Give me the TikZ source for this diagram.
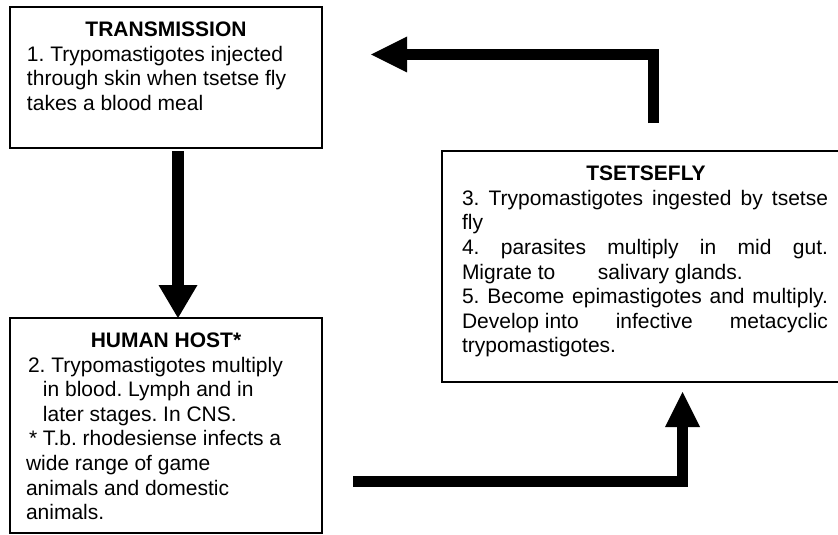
\documentclass[tikz,border=0pt]{standalone}
\usepackage{fontspec}
\setmainfont{Liberation Sans}
\usetikzlibrary{arrows.meta,calc}
\begin{document}
\begin{tikzpicture}[x=1pt,y=-1pt,
  box/.style={draw=black,line width=1.6pt,fill=white,inner sep=0pt,outer sep=0pt,anchor=north west},
  txt/.style={anchor=base west,inner sep=0pt,outer sep=0pt,font=\fontsize{21}{24.6}\selectfont\frenchspacing,align=left},
  hdr/.style={anchor=base,inner sep=0pt,outer sep=0pt,font=\fontsize{21}{24.6}\selectfont\bfseries},
  bigarrow/.style={line width=11.5pt,line join=miter,line cap=butt}]
\useasboundingbox (0,0) rectangle (838,535);
\clip (0,0) rectangle (838,535);
\fill[white] (0,0) rectangle (838,535);
% boxes
\node[box,minimum width=312pt,minimum height=141pt] (trans) at (10,7) {};
\node[box,minimum width=312pt,minimum height=215pt] (host) at (10,318) {};
\node[box,minimum width=408pt,minimum height=231pt] (fly) at (442,151) {};
% texts (anchor = baseline of the last line)
\node[hdr] (transh) at ($(trans.north)+(0,29.7)$) {TRANSMISSION};
\node[txt] (transt) at (27,110.5) {1. Trypomastigotes injected\\through skin when tsetse fly\\takes a blood meal};
\node[hdr] (hosth) at ($(host.north)+(0,29.5)$) {HUMAN HOST*};
\node[txt] (hostt) at (26,519.7) {\hspace*{2pt}2. Trypomastigotes multiply\\
\hspace*{17pt}in blood. Lymph and in\\
\hspace*{17pt}later stages. In CNS.\\
\hspace*{3pt}* T.b. rhodesiense infects a\\
wide range of game\\
animals and domestic\\
animals.};
\node[hdr] (flyh) at ($(fly.north)+(0,29.7)$) {TSETSEFLY};
\node[txt] (flyt) at (462,352.9) {\makebox[366pt][s]{3. Trypomastigotes ingested by tsetse}\\
fly\\
\makebox[366pt][s]{4. parasites multiply in mid gut.}\\
\makebox[136pt][l]{Migrate to}salivary glands.\\
\makebox[366pt][s]{5. Become epimastigotes and multiply.}\\
\makebox[366pt][s]{Develop into\hfill infective\hfill metacyclic}\\
trypomastigotes.};
% connectors
\coordinate (tip2) at (371,54.5);
\coordinate (s3) at (353,481.5);
\draw[bigarrow,-{Triangle[length=33pt,width=39pt,line width=0pt]}]
  ($(trans.south)+(12,3)$) -- ($(host.north)+(12,0)$);
\draw[bigarrow,-{Triangle[length=36pt,width=36pt,line width=0pt]}]
  ($(fly.north west)+(211.5,-28)$) |- (tip2);
\draw[bigarrow,-{Triangle[length=35pt,width=35pt,line width=0pt]}]
  (s3) -| ($(fly.south west)+(240.5,10)$);
\end{tikzpicture}
\end{document}
